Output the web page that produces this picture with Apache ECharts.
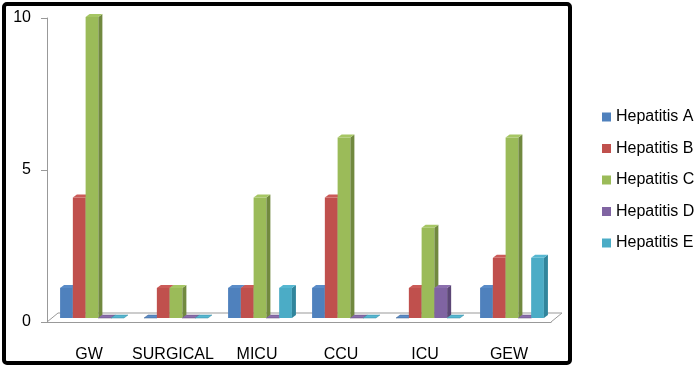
<!DOCTYPE html>
<html>
	<head>
		<meta charset="utf-8">
		<title>Hepatitis by ward</title>
		<script src="https://cdn.jsdelivr.net/npm/echarts@6/dist/echarts.min.js"></script>
	</head>
	<body style="margin:0">
		<div id="box" style="width: 700px;height: 369px;"></div>
		<script>
			var wards = ['GW', 'SURGICAL', 'MICU', 'CCU', 'ICU', 'GEW']
			var seriesNames = ['Hepatitis A', 'Hepatitis B', 'Hepatitis C', 'Hepatitis D', 'Hepatitis E']
			var hepA = [1, 0, 1, 1, 0, 1]
			var hepB = [4, 1, 1, 4, 1, 2]
			var hepC = [10, 1, 4, 6, 3, 6]
			var hepD = [0, 0, 0, 0, 1, 0]
			var hepE = [0, 0, 1, 0, 0, 2]
			var yTicks = [0, 5, 10]

			var values = [hepA, hepB, hepC, hepD, hepE]
			// front / side / top colours, excel 2007 style
			var colors = ['#4F81BD', '#C0504D', '#9BBB59', '#8064A2', '#4BACC6']
			var sideColors = ['#385D8A', '#8C3836', '#71893F', '#5C4776', '#31859C']
			var topColors = ['#5A8CC8', '#CB5B58', '#A6C664', '#8B6FAD', '#56B7D1']

			var mCharts = echarts.init(document.querySelector('#box'))

			function makeRender(s) {
				return function(params, api) {
					var p0 = api.coord([api.value(0), 0])
					var yv = api.coord([api.value(0), api.value(1)])[1]
					var bw = api.size([1, 0])[0] * 0.152
					var cx = p0[0] + 3 + (s - 2) * bw
					var base = p0[1] - 4
					var h = (p0[1] - yv) * 0.99
					var l = cx - bw / 2, r = cx + bw / 2, t = base - h
					var dx = 4, dy = -3
					var kids = []
					if (h > 0) {
						kids.push({type: 'rect', shape: {x: l, y: t, width: bw, height: h}, style: {fill: colors[s]}})
					}
					kids.push({type: 'polygon', shape: {points: [[r, t], [r + dx, t + dy], [r + dx, base + dy], [r, base]]}, style: {fill: sideColors[s]}})
					kids.push({type: 'polygon', shape: {points: [[l, t], [l + dx, t + dy], [r + dx, t + dy], [r, t]]}, style: {fill: topColors[s], stroke: h > 0 ? null : sideColors[s], lineWidth: 0.5}})
					return {type: 'group', children: kids}
				}
			}

			var series = seriesNames.map(function(name, s) {
				return {
					type: 'custom',
					name: name,
					renderItem: makeRender(s),
					itemStyle: {color: colors[s]},
					encode: {x: 0, y: 1},
					data: values[s].map(function(v, i) { return [i, v] }),
					z: 3
				}
			})

			var option = {
				animation: false,
				textStyle: {fontFamily: 'Liberation Sans, Arial, sans-serif'},
				grid: {left: 47, right: 149, top: 18, bottom: 47},
				legend: {
					orient: 'vertical',
					left: 602,
					top: 108,
					padding: 0,
					itemWidth: 9,
					itemHeight: 9,
					itemGap: 13.5,
					icon: 'rect',
					data: seriesNames,
					textStyle: {fontSize: 16, color: '#000', lineHeight: 18}
				},
				xAxis: {
					type: 'category',
					data: wards,
					axisLine: {lineStyle: {color: '#999'}},
					axisTick: {length: 7, lineStyle: {color: '#999'}},
					axisLabel: {fontSize: 16, color: '#000', margin: 25, interval: 0}
				},
				yAxis: {
					type: 'value',
					min: yTicks[0],
					max: yTicks[yTicks.length - 1],
					interval: yTicks[1] - yTicks[0],
					splitLine: {show: false},
					axisLine: {show: true, lineStyle: {color: '#999'}},
					axisTick: {show: true, length: 6, lineStyle: {color: '#999'}},
					axisLabel: {fontSize: 16, color: '#000', margin: 16}
				},
				graphic: [
					{
						type: 'polyline',
						shape: {points: [[47, 322], [58, 313], [562, 313], [551, 322]]},
						style: {stroke: '#999', fill: null, lineWidth: 1},
						z: 1
					},
					{
						type: 'rect',
						shape: {x: 4, y: 4, width: 566, height: 359, r: 3},
						style: {stroke: '#000', fill: null, lineWidth: 4},
						z: 10
					}
				],
				series: series
			}
			mCharts.setOption(option)
		</script>
	</body>
</html>
